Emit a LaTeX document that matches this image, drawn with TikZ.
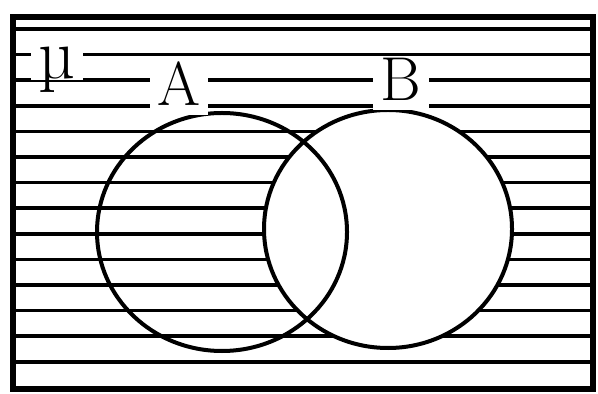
\documentclass[tikz,border=0pt]{standalone}
\begin{document}
\begin{tikzpicture}[x=0.5pt,y=-0.5pt,
  frame/.style={line width=2.6pt},
  hatch/.style={line width=1.8pt},
  set/.style={line width=2pt},
  lab/.style={fill=white,anchor=base,inner xsep=4pt,inner ysep=0.5pt,
    text depth=4pt,font=\fontsize{31}{31}\selectfont}]
\useasboundingbox (0,0) rectangle (598,394);
% hatching everywhere but inside B
\begin{scope}[even odd rule]
  \clip (13,17) rectangle (593,389)
    (388,229) ellipse [x radius=124, y radius=119];
  \foreach \k in {0,...,13}
    \draw[hatch] (13,29+25.6*\k) -- (593,29+25.6*\k);
\end{scope}
\draw[set] (222,232) ellipse [x radius=125, y radius=119];
\draw[set] (388,229) ellipse [x radius=124, y radius=119];
\draw[frame] (13,17) rectangle (593,389);
\node[lab,font=\fontsize{36}{36}\selectfont,text depth=0pt] (mu) at (57,79) {\char"00B5};
\node[lab] (labA) at (179,106) {A};
\node[lab] (labB) at (401,101) {B};
\end{tikzpicture}
\end{document}
